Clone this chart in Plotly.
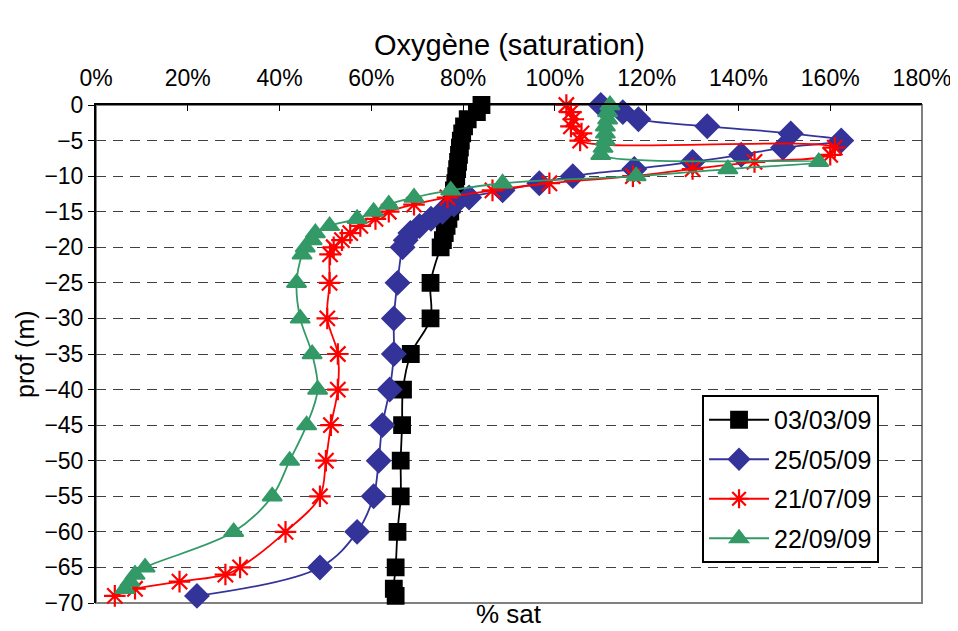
import plotly.graph_objects as go

# depth (m) and oxygen saturation (%) per sampling date
black_depth = [0, -1, -2, -3, -4, -5, -6, -7, -8, -9, -10, -11, -12, -13, -14, -15, -16, -17, -18, -19, -20,
               -25, -30, -35, -40, -45, -50, -55, -60, -65, -68, -69]
black_sat = [84, 83, 81, 80.2, 79.8, 79.5, 79.3, 79.1, 78.9, 78.7, 78.5, 78.3, 78, 77.8, 77.5, 77.2, 76.8, 76.4, 76, 75.6, 75.1,
             72.9, 72.9, 68.6, 66.9, 66.7, 66.4, 66.4, 65.7, 65.3, 64.9, 65.3]

blue_depth = [0, -1, -2, -3, -4, -5, -6, -7, -8, -9, -10, -11, -12, -13, -14, -15, -16, -17, -18, -19, -20,
              -25, -30, -35, -40, -45, -50, -55, -60, -65, -69]
blue_sat = [110, 114.8, 118.2, 133.2, 151.4, 162.4, 149.7, 140.6, 130, 117.3, 103.9, 96.6, 88.6, 81.3, 78, 75.5, 73, 70.5, 68.5, 67.5, 66.8,
            65.7, 64.9, 64.9, 64, 62.4, 61.6, 60.5, 56.9, 48.8, 22]

red_depth = [0, -1, -2, -3, -4, -5, -6, -7, -8, -9, -10, -11, -12, -13, -14, -15, -16, -17, -18, -19, -20, -21,
             -25, -30, -35, -40, -45, -50, -55, -60, -65, -66, -67, -68, -69]
red_sat = [102.5, 103.5, 104, 103.5, 105.8, 105.5, 161, 160, 143.5, 130, 117, 98.8, 86.4, 76.6, 69.3, 63.8, 60.9, 57.6, 55.4, 53.6, 51.8, 51,
           50.9, 50.4, 52.7, 52.7, 51.2, 50.1, 48.8, 41.3, 31.4, 28.2, 18.2, 8.5, 4.1]

green_depth = [0, -1, -2, -3, -4, -5, -6, -7, -8, -9, -10, -11, -12, -13, -14, -15, -16, -17, -18, -19, -20, -21,
               -25, -30, -35, -40, -45, -50, -55, -60, -65, -66, -67, -68]
green_sat = [112, 111.5, 111.5, 111, 111, 111, 110.5, 110, 157.5, 137.7, 117.7, 88.6, 77.3, 69.3, 63.8, 60.5, 56.9, 50.9, 47.8, 47.1, 45.6, 44.9,
             43.7, 44.5, 47.1, 48.3, 45.9, 42.2, 38.4, 30, 10.7, 8.5, 7.4, 6.3]

series = [
    ("03/03/09", black_sat, black_depth, "#000000", "square", 16, 1.8),
    ("25/05/09", blue_sat, blue_depth, "#333399", "diamond", 18, 1.8),
    ("21/07/09", red_sat, red_depth, "#FF0000", "asterisk-open", 18, 2.2),
    ("22/09/09", green_sat, green_depth, "#339966", "triangle-up", 17, 1.8),
]

font = "Liberation Sans, Arial, sans-serif"

fig = go.Figure()
for name, x, y, color, symbol, size, lw in series:
    fig.add_trace(go.Scatter(
        x=x, y=y, name=name, legendgroup=name, mode="lines+markers",
        line=dict(color=color, width=1.8, shape="spline", smoothing=1),
        marker=dict(symbol=symbol, size=size, color=color, line=dict(color=color, width=lw)),
        cliponaxis=False,
    ))

# page body adds an 8px margin, so the figure is sized to fit inside it
fig.update_layout(
    width=950, height=623,
    plot_bgcolor="white", paper_bgcolor="white",
    margin=dict(l=88, r=36, t=97, b=28),
    font=dict(family=font, size=23, color="black"),
    showlegend=True,
    legend=dict(
        x=0.7337, y=0.4177, xanchor="left", yanchor="top",
        bgcolor="white", bordercolor="black", borderwidth=2,
        font=dict(size=25), itemwidth=60, tracegroupgap=4,
    ),
    shapes=[dict(type="rect", xref="paper", yref="paper", x0=0, x1=1, y0=0, y1=1,
                 line=dict(color="#808080", width=2), layer="below")],
    annotations=[
        dict(text="Oxygène (saturation)", xref="paper", yref="paper", x=0.5, y=1, yshift=42,
             xanchor="center", yanchor="bottom", showarrow=False, font=dict(size=29)),
        dict(text="% sat", xref="paper", yref="paper", x=0.5, y=0, yshift=6,
             xanchor="center", yanchor="top", showarrow=False, font=dict(size=26)),
        dict(text="prof (m)", xref="paper", yref="paper", x=-0.086, y=0.5, textangle=-90,
             xanchor="center", yanchor="middle", showarrow=False, font=dict(size=25)),
    ],
)

fig.update_xaxes(
    side="top", range=[0, 180], dtick=20, ticksuffix="%", automargin=False,
    showgrid=False, zeroline=False,
    showline=True, linecolor="black", linewidth=2,
    ticks="inside", ticklen=6, tickcolor="black", ticklabelstandoff=8,
)
fig.update_yaxes(
    range=[-70, 0], dtick=5, automargin=False,
    showgrid=True, gridcolor="#404040", gridwidth=1, griddash="10px,7px",
    zeroline=False,
    showline=True, linecolor="black", linewidth=2,
    ticks="outside", ticklen=6, tickcolor="black",
)

fig.write_html("out.html")
